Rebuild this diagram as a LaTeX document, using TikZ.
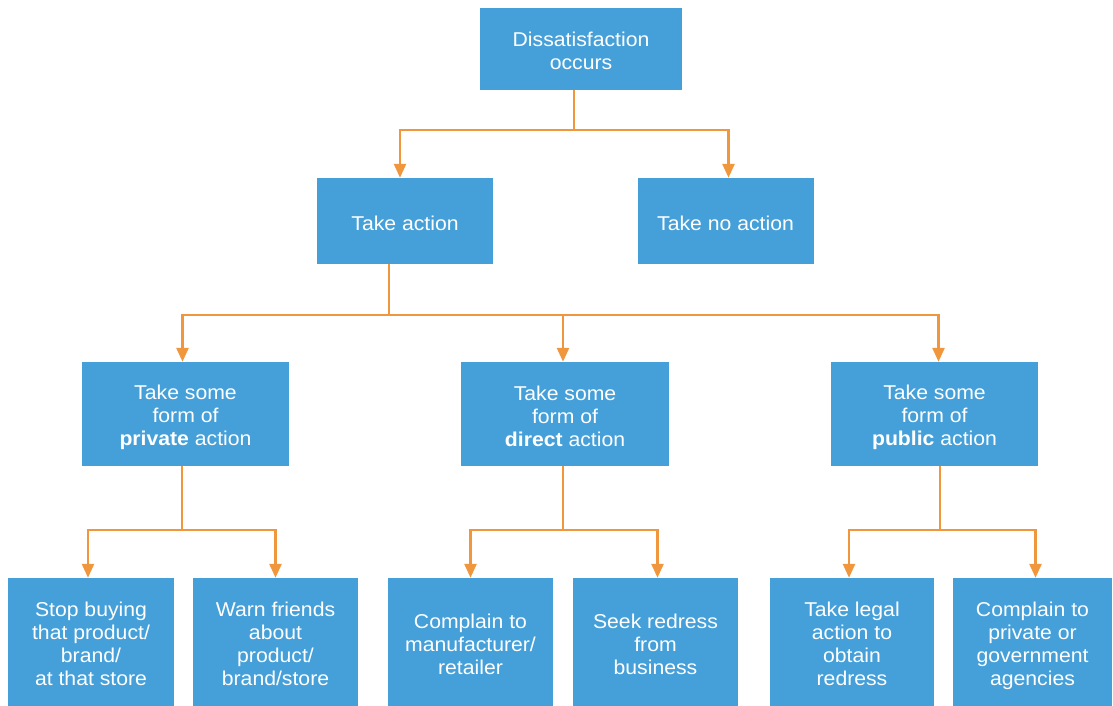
\documentclass[tikz,border=0pt]{standalone}
\usepackage{fontspec}
\setmainfont{Liberation Sans}[FakeStretch=1.06]
\usetikzlibrary{arrows.meta}
\definecolor{boxblue}{RGB}{69,160,217}
\definecolor{lineorange}{RGB}{240,150,60}
\tikzset{
  box/.style={fill=boxblue, text=white, align=center, inner sep=0pt,
    font=\fontsize{20}{23}\selectfont},
  conn/.style={draw=lineorange, line width=2.6pt},
  arr/.style={conn, -{Triangle[width=12pt,length=14pt]}}
}
\newcommand{\topfix}{\rule{0pt}{22pt}}
\newcommand{\botfix}{\rule[-4pt]{0pt}{4pt}}
\begin{document}
\begin{tikzpicture}[x=1pt,y=-1pt]
\useasboundingbox (0,0) rectangle (1113,706);
% level 0
\node[box, minimum width=202pt, minimum height=82pt] (top) at (581,49) {\topfix Dissatisfaction\\occurs\botfix};
% level 1
\node[box, minimum width=176pt, minimum height=86pt] (ta) at (405,221) {\topfix Take action\botfix};
\node[box, minimum width=176pt, minimum height=86pt] (tna) at (725.5,221) {\topfix Take no action\botfix};
% level 2
\node[box, minimum width=207pt, minimum height=104pt] (priv) at (185.5,414) {\topfix Take some\\form of\\\textbf{private} action\botfix};
\node[box, minimum width=208pt, minimum height=104pt] (dir) at (565,414) {\topfix Take some\\form of\\\textbf{direct} action\botfix};
\node[box, minimum width=207pt, minimum height=104pt] (pub) at (934.5,414) {\topfix Take some\\form of\\\textbf{public} action\botfix};
% level 3
\node[box, minimum width=166pt, minimum height=128pt] (b1) at (91,642) {\topfix Stop buying\\that product/\\brand/\\at that store\botfix};
\node[box, minimum width=165pt, minimum height=128pt] (b2) at (275.5,642) {\topfix Warn friends\\about\\product/\\brand/store\botfix};
\node[box, minimum width=165pt, minimum height=128pt] (b3) at (470.5,642) {\topfix Complain to\\manufacturer/\\retailer\botfix};
\node[box, minimum width=165pt, minimum height=128pt] (b4) at (655.5,642) {\topfix Seek redress\\from\\business\botfix};
\node[box, minimum width=164pt, minimum height=128pt] (b5) at (852,642) {\topfix Take legal\\action to\\obtain\\redress\botfix};
\node[box, minimum width=159pt, minimum height=128pt] (b6) at (1032.5,642) {\topfix Complain to\\private or\\government\\agencies\botfix};
% junctions
\coordinate (j0) at (574,130);
\coordinate (j1) at (389,315);
\coordinate (j2) at (182,530);
\coordinate (j3) at (563,530);
\coordinate (j4) at (940,530);
% connectors
\draw[conn] (top.south -| j0) -- (j0);
\draw[arr] (j0) -| ([xshift=-5pt]ta.north);
\draw[arr] (j0) -| ([xshift=3pt]tna.north);
\draw[conn] (ta.south -| j1) -- (j1);
\draw[arr] (j1) -| ([xshift=-3pt]priv.north);
\draw[arr] (j1) -| ([xshift=-2pt]dir.north);
\draw[arr] (j1) -| ([xshift=4pt]pub.north);
\draw[conn] (priv.south -| j2) -- (j2);
\draw[arr] (j2) -| ([xshift=-3pt]b1.north);
\draw[arr] (j2) -| (b2.north);
\draw[conn] (dir.south -| j3) -- (j3);
\draw[arr] (j3) -| (b3.north);
\draw[arr] (j3) -| ([xshift=2pt]b4.north);
\draw[conn] (pub.south -| j4) -- (j4);
\draw[arr] (j4) -| ([xshift=-3pt]b5.north);
\draw[arr] (j4) -| ([xshift=3pt]b6.north);
\end{tikzpicture}
\end{document}
